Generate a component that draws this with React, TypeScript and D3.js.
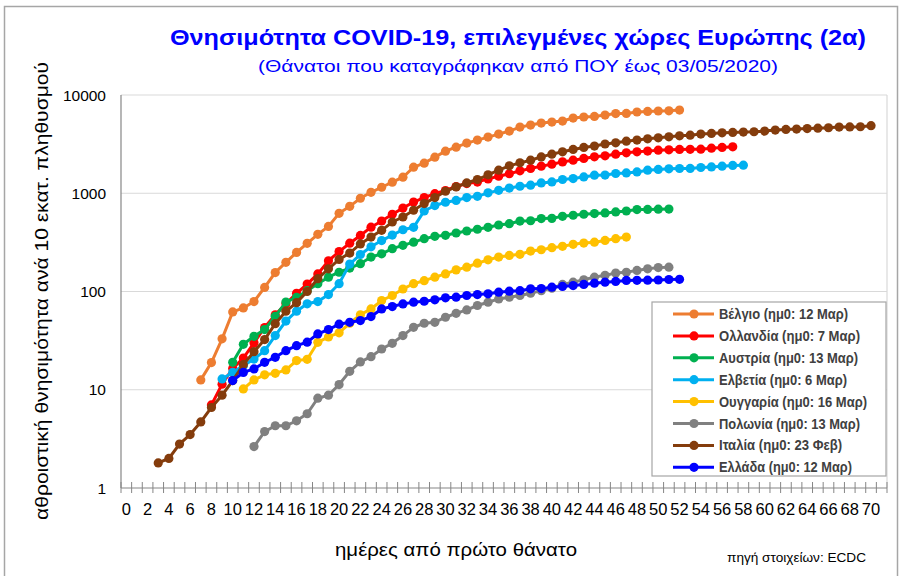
import React from "react";
import * as d3 from "d3";

const days: number[] = d3.range(72);
const xTickLabels: number[] = d3.range(0, 71, 2);
const yTicks: number[] = [1, 10, 100, 1000, 10000];

const seriesNames: string[] = [
  "Βέλγιο (ημ0: 12 Μαρ)",
  "Ολλανδία (ημ0: 7 Μαρ)",
  "Αυστρία (ημ0: 13 Μαρ)",
  "Ελβετία (ημ0: 6 Μαρ)",
  "Ουγγαρία (ημ0: 16 Μαρ)",
  "Πολωνία (ημ0: 13 Μαρ)",
  "Ιταλία (ημ0: 23 Φεβ)",
  "Ελλάδα (ημ0: 12 Μαρ)",
];
const seriesColors: string[] = ["#ED7D31", "#FF0000", "#00B050", "#00B0F0", "#FFC000", "#808080", "#843C0C", "#0000FF"];
const seriesStart: number[] = [7, 8, 10, 9, 11, 12, 3, 10];

const belgium: number[] = [12.6, 18.9, 33, 62, 68, 79, 110, 156, 198, 250, 309, 382, 460, 625, 736, 889, 1023, 1151, 1295, 1456, 1841, 2024, 2330, 2683, 2946, 3240, 3475, 3727, 4000, 4295, 4713, 4943, 5180, 5300, 5430, 5820, 5970, 6050, 6250, 6470, 6500, 6710, 6800, 6870, 6900, 7030];
const netherlands: number[] = [7.0, 11.4, 16.5, 21, 30, 43, 58, 75, 96, 119, 151, 205, 255, 310, 372, 452, 522, 610, 707, 813, 903, 990, 1067, 1170, 1255, 1300, 1400, 1490, 1580, 1690, 1787, 1888, 1977, 2086, 2172, 2260, 2348, 2404, 2500, 2578, 2638, 2684, 2747, 2770, 2792, 2800, 2812, 2878, 2925, 2970];
const austria: number[] = [19, 29, 35, 41, 56, 78, 87, 102, 120, 140, 157, 173, 192, 224, 242, 273, 295, 318, 345, 364, 373, 394, 413, 430, 450, 475, 490, 521, 525, 552, 555, 582, 597, 611, 621, 630, 645, 660, 682, 685, 688, 690];
const switzerland: number[] = [12.9, 15, 17.6, 20.5, 25, 35.6, 50, 63, 75, 79, 93, 120, 190, 238, 285, 330, 375, 425, 450, 660, 750, 810, 845, 904, 930, 1010, 1070, 1130, 1178, 1207, 1274, 1304, 1380, 1412, 1466, 1527, 1530, 1589, 1611, 1649, 1718, 1746, 1771, 1787, 1790, 1829, 1855, 1888, 1918, 1931];
const hungary: number[] = [10.2, 12.6, 14.2, 14.7, 15.9, 19.8, 20.4, 30.4, 34.5, 38, 47.5, 58, 66.5, 81, 91, 106, 120, 129, 140, 151, 166, 177, 194, 210, 224, 233, 239, 258, 266, 279, 288, 302, 311, 318, 331, 345, 358];
const poland: number[] = [2.64, 3.75, 4.3, 4.3, 4.83, 5.7, 8.2, 8.8, 11.3, 15.4, 19.2, 21.7, 26, 29.7, 35.6, 43.2, 47.5, 48.6, 54.7, 60, 65, 72, 77.8, 84, 87.5, 91, 96, 102, 108, 118, 124.5, 131.5, 140, 146, 154, 157, 164, 170, 175, 177];
const italy: number[] = [1.8, 2.0, 2.8, 3.5, 4.7, 6.6, 8.8, 12.4, 18, 24.4, 32.4, 47, 63, 77, 100, 135, 170, 212, 246, 305, 358, 419, 510, 573, 671, 785, 903, 1048, 1159, 1273, 1380, 1540, 1718, 1900, 2040, 2170, 2345, 2500, 2640, 2790, 2925, 3020, 3170, 3260, 3390, 3475, 3580, 3665, 3750, 3845, 3900, 4000, 4060, 4120, 4160, 4190, 4225, 4290, 4395, 4460, 4500, 4550, 4600, 4640, 4720, 4730, 4750, 4870];
const greece: number[] = [12.4, 15, 16.3, 19, 21.4, 25, 28.1, 30.5, 37, 41, 46.5, 48.6, 50.6, 55.6, 66.5, 70.3, 74.8, 77.8, 79.6, 82.2, 86.3, 87.5, 91, 93, 94.7, 98.4, 100.7, 102, 106.5, 107, 110.6, 112.5, 115, 118, 121.5, 124.5, 126.5, 129.5, 130, 130.5, 131, 132.4, 133];

const seriesValues: number[][] = [belgium, netherlands, austria, switzerland, hungary, poland, italy, greece];

const W = 901;
const H = 576;
const legendTextWidths = [129, 141, 139, 128, 148, 141, 123, 133];

export default function App() {
  const x = d3.scaleBand<number>().domain(days).range([121, 887]).padding(0);
  const bw = x.bandwidth();
  const cx = (d: number) => (x(d) as number) + bw / 2;
  const y = d3.scaleLog().domain([1, 10000]).range([488, 95]);

  const series = seriesValues.map((vals, i) => ({
    name: seriesNames[i],
    color: seriesColors[i],
    pts: vals.map((v, j) => ({ d: seriesStart[i] + j, v })),
  }));

  const line = d3
    .line<{ d: number; v: number }>()
    .x((p) => cx(p.d))
    .y((p) => y(p.v));

  const font = "'Liberation Sans', Arial, sans-serif";
  const legX = 652;
  const legY = 302;
  const legRow = 21.9;

  return (
    <svg
      width={W}
      height={H}
      style={{ position: "absolute", left: 0, top: 0, background: "#fff" }}
      fontFamily={font}
    >
      <rect x={0} y={0} width={W} height={H} fill="#fff" />
      <rect x={4.5} y={6.5} width={893} height={600} fill="none" stroke="#a6a6a6" strokeWidth={1.5} />

      {/* title */}
      <text x={518} y={45} textAnchor="middle" fontSize={22} fontWeight="bold" fill="#0000FF" textLength={696} lengthAdjust="spacingAndGlyphs">
        Θνησιμότητα COVID-19, επιλεγμένες χώρες Ευρώπης (2α)
      </text>
      <text x={518} y={72} textAnchor="middle" fontSize={17} fill="#0000FF" textLength={520} lengthAdjust="spacingAndGlyphs">
        (Θάνατοι που καταγράφηκαν από ΠΟΥ έως 03/05/2020)
      </text>

      {/* gridlines */}
      {yTicks.slice(1).map((t) => (
        <line key={"g" + t} x1={121} x2={887} y1={y(t)} y2={y(t)} stroke="#d9d9d9" strokeWidth={1.2} />
      ))}
      <line x1={887} x2={887} y1={95} y2={488} stroke="#d9d9d9" strokeWidth={1.2} />

      {/* y axis */}
      <line x1={121} x2={121} y1={95} y2={488} stroke="#868686" strokeWidth={1.2} />
      {yTicks.map((t) => (
        <text key={"yt" + t} x={106} y={y(t) + 5.5} textAnchor="end" fontSize={15.5} fill="#000">
          {t}
        </text>
      ))}

      {/* x axis */}
      <line x1={121} x2={887} y1={488} y2={488} stroke="#868686" strokeWidth={1.2} />
      {d3.range(73).map((i) => (
        <line key={"xt" + i} x1={121 + i * bw} x2={121 + i * bw} y1={482} y2={493} stroke="#868686" strokeWidth={1} />
      ))}
      {xTickLabels.map((t) => (
        <text key={"xl" + t} x={cx(t)} y={515} textAnchor="middle" fontSize={16.5} fill="#000">
          {t}
        </text>
      ))}

      {/* axis titles */}
      <text
        transform={`translate(48,291) rotate(-90)`}
        textAnchor="middle"
        fontSize={19}
        fill="#000"
        textLength={458}
        lengthAdjust="spacingAndGlyphs"
      >
        αθροιστική θνησιμότητα ανά 10 εκατ. πληθυσμού
      </text>
      <text x={456} y={556} textAnchor="middle" fontSize={19} fill="#000" textLength={242} lengthAdjust="spacingAndGlyphs">
        ημέρες από πρώτο θάνατο
      </text>
      <text x={727} y={562} fontSize={13} fill="#000" textLength={139} lengthAdjust="spacingAndGlyphs">
        πηγή στοιχείων: ECDC
      </text>

      {/* series */}
      {series.map((s) => (
        <g key={s.name}>
          <path d={line(s.pts) || ""} fill="none" stroke={s.color} strokeWidth={3} />
          {s.pts.map((p) => (
            <circle key={p.d} cx={cx(p.d)} cy={y(p.v)} r={4.6} fill={s.color} />
          ))}
        </g>
      ))}

      {/* legend */}
      <rect x={legX} y={legY} width={234} height={174} fill="#fff" stroke="#a6a6a6" strokeWidth={1.2} />
      {series.map((s, i) => {
        const ry = legY + 12 + i * legRow;
        return (
          <g key={"lg" + i}>
            <line x1={673} x2={714} y1={ry} y2={ry} stroke={s.color} strokeWidth={3} />
            <circle cx={694} cy={ry} r={4.6} fill={s.color} />
            <text
              x={719}
              y={ry + 5}
              fontSize={14}
              fontWeight="bold"
              fill="#404040"
              textLength={legendTextWidths[i]}
              lengthAdjust="spacingAndGlyphs"
            >
              {s.name}
            </text>
          </g>
        );
      })}
    </svg>
  );
}
